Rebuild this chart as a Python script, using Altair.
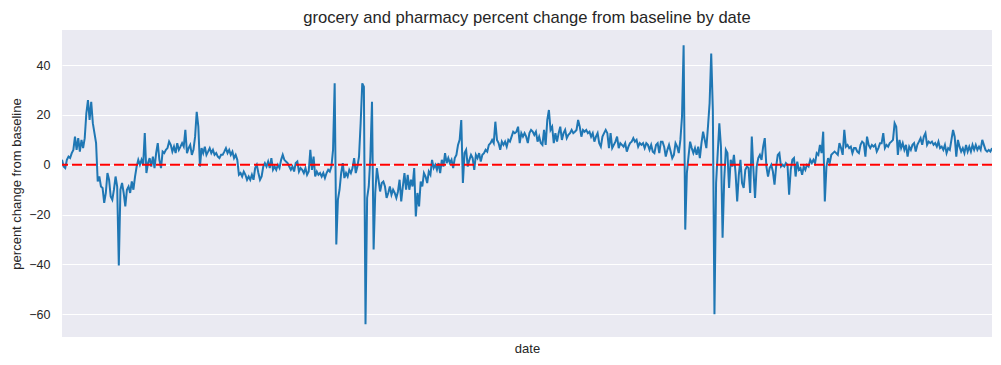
import altair as alt
import pandas as pd

# Values, left to right (one value per day index)
seg1 = [2, -0.7, -1.3, 2, 3.3, 2.7, 4.7, 6, 11.3, 6, 10.7, 5.3, 10, 6.7, 10.7, 20.7, 26, 18, 25.3, 16.7,
        12.7, 8.7, -6.7, -4.7, -8.7, -9.3, -15.3, -11.3, -3.3, -6, -12.7, -14, -10, -4.7, -8.7, -40.4, -10,
        -7.3, -11.3, -16.7, -10, -8.7, -11.3, -6.7, -10, -4.7, -0.7, 2, 0, 2, 0, 12.7, -3.3, 0.7, 2.7, -0.7,
        3.3, -1.3, 4.7, 8.7, 2, -1.3, 5.3, 4.7, 6, 6.7, 9.3, 8, 5.3, 7.3, 4.7, 8.7, 6, 7.3, 8.7]
seg2 = [7.3, 14, 4.7, 6.7, 8, 4, 6, 11.3, 21.3, 15.3, -0.7, 6.7, 4.7, 7.3, 4, 5.3, 6.7, 4.7, 6, 4, 4.7,
        3.3, 2.7, 4, 4, 5.3, 6.7, 4.7, 6, 4, 5.3, 2.7, 4, 2, -4, -3.3, -4.7, -2.7, -4, -6, -4.7, -6, -4, -6,
        -1.3, 0, -3.3, -6, -4.7, -0.7, 0.7, -0.7, 1.3, -1.3, 2.7, -2, -0.7, -2, 0, -1.3, 2, 4, 2, 1.3, 0.7,
        -0.7, -2, -0.7, -2.7, 0.7, 1.3, -2.7, -1.3]
seg3 = [-2, -3.3, -1.3, -4, -2.7, 6, -2, 3.3, -4.7, -2.7, -4, -3.3, -4.7, -3.3, -5.3, -3.3, -2, -2.7, -0.7,
        6, 32.7, -32, -14, -10, -3.3, 0.7, -5.3, -3.3, -4.7, -2, -3.3, -1.3, 2.7, -3.3, -0.7, 3.3, 16.7,
        32.7, 31.3, -64, -13.3, -8.7, 3.3, 25.3, -34, -11.3, -1.3, -6, -10.7, -7.3, -6.7, -8.7, -13.3, -11.3,
        -8.7, -12, -10, -11.3, -13.3, -10.7, -6, -14.7, -8.7, -3.3, -10, -4, -10, -6, -8.7, -1.3, -20.7,
        -11.3, -16.7, -6.7, -8.7, -3.3]
seg4 = [-4.7, -7.3, -2.7, -4, 2, -1.3, 0, -2, 0.7, -3.3, 2, -0.7, 4.7, 0.7, 2.7, 0.7, 2, -1.3, 2.7, 4, 8,
        10, 18, -7.3, 4.7, 6, -0.7, 2, 4, 2.7, -2, 4, 2.7, 4.7, 1.3, 4, 4.7, 6, 5.3, 8, 8.7, 10, 8.7, 17.3,
        10, 8.7, 6, 9.3, 8, 9.3, 7.3, 10, 9.3, 11.3, 13.3, 12.7, 13.3, 15.3, 8.7, 12.7, 11.3, 12.7, 11.3,
        8.7, 12.7, 14, 13.3, 12, 13.3, 9.3, 11.3, 8.7, 8, 14]
seg5 = [8, 18, 22, 14, 15.3, 8.7, 12.7, 9.3, 12.7, 15.3, 10, 12.7, 14, 10.7, 12, 12.7, 14, 12.7, 13.3, 14,
        18, 15.3, 11.3, 14, 13.3, 14, 12.7, 13.3, 11.3, 12.7, 9.3, 11.3, 12.7, 8.7, 7.3, 11.3, 12.7, 14,
        12.7, 6.7, 12.7, 6.7, 8, 9.3, 11.3, 6.7, 8.7, 8, 7.3, 8.7, 5.3, 7.3, 8.7, 9.3, 10.7, 9.3, 10, 7.3,
        8.7, 8, 8.7, 6.7, 8.7, 8, 6, 8, 5.3, 4.7, 8, 8.7, 4.7, 9.3]
seg6 = [9.3, 7.3, 3.3, 6, 8, 5.3, 2.7, 4, 8.7, 7.3, 4.7, 10, 19.3, 48, -26, -3.3, 3.3, 9.3, 6.7, 4.7, 6.7,
        4, 7.3, 2.7, 8.7, 13.3, 10, 6.7, 15.3, 24.7, 44.7, 22, -60, -7.3, 4.7, 16.7, 7.3, -29.3, -6, 6, 4.7,
        -9.3, 2, -0.7, 4, -3.3, -14.7, -4, 2, -7.3, -9.3, -2, -0.7, -1.3, -11.3, 11.3, -2, -13.3, -0.7, 2.7,
        4, 2, 7.3, 10.7, -0.7, -4.7, -1.3, 0, -2.7, -8, -0.7, 4, 4.7, -0.7, 0]
seg7 = [-0.7, 0.7, 0, -12, -2, 2, 2.7, -4.7, 1.3, -2, -1.3, -4, -0.7, -2, 0, -0.7, 2, 0.7, 2, 0.7, 4.7, 4,
        8, 4.7, 13.3, -14.7, -0.7, 2.7, 0.7, 4, 4.7, 5.3, 4.7, 4, 8.7, 6.7, 4, 14, 7.3, 8, 6.7, 7.3, 4.7,
        6.7, 6.7, 5.3, 4.7, 8, 9.3, 8.7, 3.3, 11.3, 8, 6.7, 8, 7.3, 8, 5.3, 6.7, 8.7, 8.7, 12.7, 6.7]
seg8 = [8, 7.3, 8.7, 9.3, 10, 16.7, 15.3, 4, 10, 6.7, 8.7, 6, 8, 3.3, 7.3, 6, 8, 8.7, 5.3, 8, 9.3, 10.7, 8,
        11.3, 12.7, 8, 9.3, 8.7, 9.3, 8, 8.7, 7.3, 9.3, 6.7, 7.3, 6, 8, 4.7, 6.7, 6, 10, 14, 11.3, 3.3, 10,
        7.3, 5.3, 6.7, 4.7, 8, 5.3, 7.3, 5.3, 8, 6, 8, 6, 7.3, 6, 10, 8, 6, 5.3, 6, 5.3, 6.7]

values = seg1 + seg2 + seg3 + seg4 + seg5 + seg6 + seg7 + seg8
baseline = [0]
y_ticks = [-60, -40, -20, 0, 20, 40]

df = pd.DataFrame({"day": list(range(len(values))), "pct": values})
df_rule = pd.DataFrame({"y": baseline})

FONT = "Liberation Sans"
TXT = "#262626"

x_scale = alt.Scale(domain=[0, len(values) - 1], nice=False, zero=False)
y_scale = alt.Scale(domain=[-69.1, 54.1], nice=False, zero=False)

line = alt.Chart(df).mark_line(color="#1f77b4", strokeWidth=2, clip=True).encode(
    x=alt.X("day:Q", scale=x_scale,
            axis=alt.Axis(title="date", labels=False, ticks=False, grid=False, domain=False,
                          titleFont=FONT, titleFontSize=13, titleFontWeight="normal",
                          titleColor=TXT, titlePadding=5)),
    y=alt.Y("pct:Q", scale=y_scale,
            axis=alt.Axis(title="percent change from baseline", values=y_ticks, ticks=False,
                          tickSize=0, domain=False, grid=True, gridColor="white", gridWidth=1.2,
                          labelFont=FONT, labelFontSize=12.5, labelColor=TXT, labelPadding=12,
                          titleFont=FONT, titleFontSize=13, titleFontWeight="normal",
                          titleColor=TXT, titlePadding=5)),
)

rule = alt.Chart(df_rule).mark_rule(color="red", strokeDash=[10, 4], strokeWidth=2).encode(
    y=alt.Y("y:Q", scale=y_scale)
)

chart = (line + rule).properties(
    width=930,
    height=307,
    title=alt.TitleParams("grocery and pharmacy percent change from baseline by date",
                          font=FONT, fontSize=16.6, fontWeight="normal", color=TXT, offset=3),
    autosize=alt.AutoSizeParams(type="none"),
    padding={"left": 54, "top": 22, "right": 1, "bottom": 22},
    background="white",
).configure_view(fill="#EAEAF2", strokeWidth=0)

chart.save("out.html", embed_options={"renderer": "svg", "actions": False})
